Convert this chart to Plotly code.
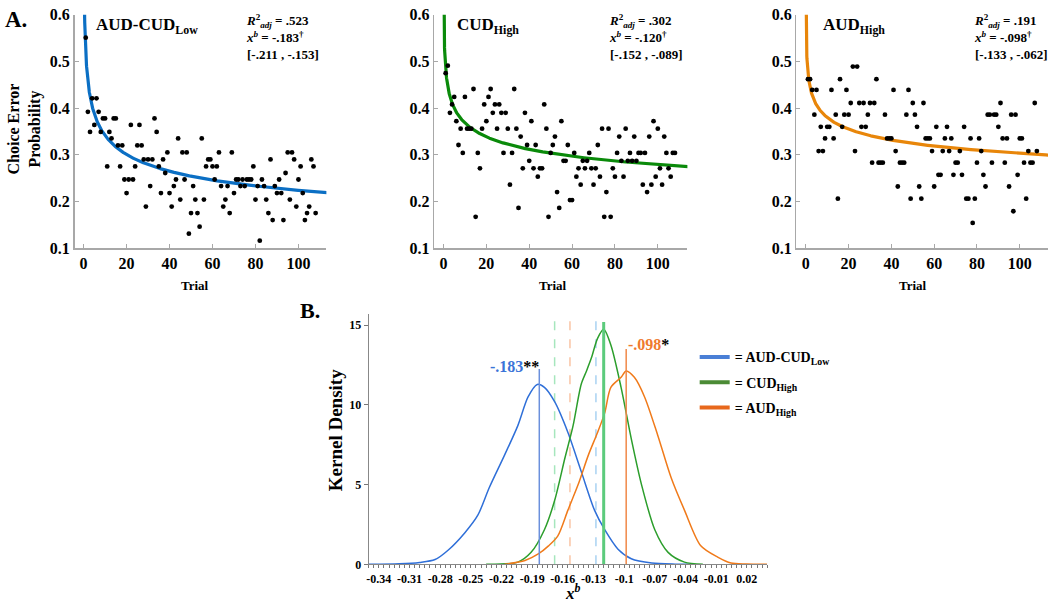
import numpy as np
import plotly.graph_objects as go

# ---------------- DATA ----------------
trials = list(range(1, 109))

aud_cud_low = [0.551, 0.392, 0.349, 0.421, 0.364, 0.421, 0.392, 0.349, 0.378, 0.378,
               0.275, 0.349, 0.335, 0.378, 0.378, 0.32, 0.275, 0.32, 0.247, 0.218,
               0.247, 0.364, 0.247, 0.275, 0.32, 0.364, 0.32, 0.29, 0.189, 0.29,
               0.233, 0.29, 0.378, 0.349, 0.275, 0.218, 0.29, 0.261, 0.305, 0.218,
               0.189, 0.233, 0.247, 0.335, 0.204, 0.305, 0.247, 0.305, 0.131, 0.175,
               0.233, 0.204, 0.175, 0.146, 0.335, 0.204, 0.275, 0.29, 0.29, 0.275,
               0.247, 0.275, 0.305, 0.233, 0.189, 0.204, 0.233, 0.175, 0.305, 0.218,
               0.247, 0.247, 0.233, 0.247, 0.233, 0.247, 0.247, 0.247, 0.275, 0.204,
               0.233, 0.116, 0.247, 0.233, 0.204, 0.175, 0.29, 0.16, 0.233, 0.218,
               0.247, 0.218, 0.16, 0.261, 0.305, 0.204, 0.305, 0.29, 0.189, 0.247,
               0.275, 0.218, 0.16, 0.175, 0.189, 0.29, 0.275, 0.175]

cud_high = [0.475, 0.491, 0.39, 0.408, 0.424, 0.372, 0.321, 0.356, 0.304, 0.424,
            0.356, 0.356, 0.356, 0.441, 0.167, 0.304, 0.271, 0.356, 0.408, 0.372,
            0.424, 0.441, 0.39, 0.408, 0.356, 0.408, 0.39, 0.304, 0.39, 0.356,
            0.236, 0.304, 0.441, 0.356, 0.186, 0.339, 0.271, 0.39, 0.321, 0.287,
            0.372, 0.271, 0.321, 0.253, 0.271, 0.271, 0.408, 0.356, 0.167, 0.304,
            0.321, 0.339, 0.22, 0.186, 0.372, 0.287, 0.287, 0.321, 0.203, 0.203,
            0.304, 0.253, 0.271, 0.236, 0.287, 0.271, 0.287, 0.304, 0.271, 0.236,
            0.271, 0.321, 0.253, 0.356, 0.167, 0.22, 0.356, 0.167, 0.271, 0.253,
            0.304, 0.339, 0.287, 0.253, 0.356, 0.287, 0.304, 0.287, 0.339, 0.287,
            0.304, 0.304, 0.236, 0.304, 0.22, 0.339, 0.236, 0.372, 0.253, 0.356,
            0.271, 0.236, 0.339, 0.304, 0.271, 0.253, 0.304, 0.304]

aud_high = [0.462, 0.462, 0.439, 0.386, 0.439, 0.308, 0.36, 0.308, 0.335, 0.36,
            0.36, 0.439, 0.335, 0.386, 0.206, 0.462, 0.36, 0.386, 0.439, 0.386,
            0.411, 0.489, 0.308, 0.489, 0.411, 0.36, 0.411, 0.36, 0.386, 0.411,
            0.283, 0.411, 0.462, 0.283, 0.283, 0.283, 0.386, 0.335, 0.335, 0.335,
            0.439, 0.308, 0.232, 0.283, 0.283, 0.283, 0.386, 0.439, 0.206, 0.411,
            0.386, 0.36, 0.232, 0.206, 0.411, 0.335, 0.335, 0.335, 0.308, 0.232,
            0.36, 0.257, 0.257, 0.308, 0.335, 0.36, 0.308, 0.335, 0.257, 0.283,
            0.283, 0.308, 0.257, 0.36, 0.206, 0.206, 0.335, 0.154, 0.206, 0.283,
            0.335, 0.308, 0.257, 0.232, 0.386, 0.386, 0.283, 0.386, 0.386, 0.36,
            0.411, 0.335, 0.283, 0.335, 0.232, 0.386, 0.179, 0.386, 0.257, 0.335,
            0.335, 0.283, 0.206, 0.308, 0.283, 0.283, 0.411, 0.308]

# power-law fit parameters  y = a * trial^b
fit_a = [0.52, 0.485, 0.476]
fit_b = [-0.183, -0.120, -0.098]
r2_adj = [".523", ".302", ".191"]
xb_txt = ["-.183", "-.120", "-.098"]
ci_txt = ["[-.211 , -.153]", "[-.152 , -.089]", "[-.133 , -.062]"]
group_titles = ["AUD-CUD<sub>Low</sub>", "CUD<sub>High</sub>", "AUD<sub>High</sub>"]

# kernel densities (panel B)
dens_blue_x = [-0.35, -0.32, -0.30, -0.285, -0.272, -0.256, -0.243, -0.232, -0.217, -0.204,
               -0.194, -0.185, -0.178, -0.168, -0.155, -0.142, -0.129, -0.119, -0.106, -0.093,
               -0.073, -0.05, -0.034]
dens_blue_y = [0, 0.03, 0.12, 0.3, 0.9, 1.97, 3.1, 4.8, 6.85, 8.7,
               10.5, 11.28, 11.1, 10.2, 8.27, 5.83, 3.4, 2.17, 0.95, 0.35,
               0.08, 0.01, 0]
dens_green_x = [-0.235, -0.204, -0.191, -0.178, -0.168, -0.158, -0.150, -0.142, -0.137, -0.132,
                -0.126, -0.120, -0.113, -0.103, -0.093, -0.083, -0.070, -0.057, -0.041, -0.023]
dens_green_y = [0, 0.14, 0.75, 2.17, 4.0, 6.65, 8.68, 11.3, 12.1, 12.95,
                14.17, 14.74, 13.76, 11.1, 7.87, 5.0, 2.17, 0.75, 0.14, 0]
dens_orange_x = [-0.217, -0.197, -0.184, -0.174, -0.165, -0.155, -0.145, -0.135, -0.126, -0.119,
                 -0.113, -0.103, -0.098, -0.090, -0.080, -0.067, -0.054, -0.041, -0.025, -0.0085,
                 0.0045, 0.02, 0.04]
dens_orange_y = [0, 0.24, 0.65, 1.16, 1.77, 3.4, 5.0, 6.85, 8.27, 9.5,
                 11.1, 11.73, 12.13, 11.73, 10.5, 8.07, 5.43, 3.4, 1.16, 0.45,
                 0.08, 0.02, 0]

mean_x = [-0.183, -0.120, -0.098]
mean_h = [12.25, 15.2, 13.5]
dashed_x = [-0.168, -0.153, -0.1276]
dashed_top = 15.7

legend_names = ["= AUD-CUD<sub>Low</sub>", "= CUD<sub>High</sub>", "= AUD<sub>High</sub>"]

bx_ticks = [-0.34, -0.31, -0.28, -0.25, -0.22, -0.19, -0.16, -0.13, -0.1, -0.07, -0.04, -0.01, 0.02]
bx_ticktext = ["-0.34", "-0.31", "-0.28", "-0.25", "-0.22", "-0.19", "-0.16", "-0.13", "-0.1",
               "-0.07", "-0.04", "-0.01", "0.02"]

# ---------------- STYLE / LAYOUT ----------------
FONT = "Liberation Serif, Times New Roman, serif"
top_colors = ["#0b6fc4", "#0a8a0a", "#e8860a"]
dens_colors = ["#2f6fd8", "#2c9e2c", "#f07a1a"]
mean_colors = ["#6b90dc", "#5ccb7c", "#f08848"]
mean_widths = [1.5, 3, 1.5]
dashed_colors = ["#a6e6bd", "#f9c4a4", "#a9d2f2"]
legend_colors = ["#4a7fd6", "#4b8b35", "#e8681c"]

W, H = 1050, 609
def fx(px):
    return px / W
def fy(py):
    return 1 - py / H

x_domains = [[fx(72.7), fx(325)], [fx(433), fx(686.7)], [fx(796), fx(1048)]]
x_ranges = [[-4.2, 113], [-4.35, 113.8], [-4.35, 113.2]]
top_dom = [fy(247), fy(7)]

fig = go.Figure()

curve_x = np.linspace(0.02, 115, 2000)
for i, vals in enumerate([aud_cud_low, cud_high, aud_high]):
    xa = "x" if i == 0 else f"x{i+1}"
    ya = "y" if i == 0 else f"y{i+1}"
    fig.add_trace(go.Scatter(x=curve_x, y=fit_a[i] * curve_x ** fit_b[i], mode="lines",
                             line=dict(color=top_colors[i], width=3.2),
                             xaxis=xa, yaxis=ya, showlegend=False, hoverinfo="skip"))
    fig.add_trace(go.Scatter(x=trials, y=vals, mode="markers",
                             marker=dict(size=4.8, color="black"),
                             xaxis=xa, yaxis=ya, showlegend=False))

# Panel B
for xs, c in zip(dashed_x, dashed_colors):
    fig.add_trace(go.Scatter(x=[xs, xs], y=[0, dashed_top], mode="lines",
                             line=dict(color=c, width=1.5, dash="dash"),
                             xaxis="x4", yaxis="y4", showlegend=False, hoverinfo="skip"))
for dx, dy, c in zip([dens_blue_x, dens_green_x, dens_orange_x],
                     [dens_blue_y, dens_green_y, dens_orange_y], dens_colors):
    fig.add_trace(go.Scatter(x=dx, y=dy, mode="lines",
                             line=dict(color=c, width=1.5, shape="spline", smoothing=0.8),
                             xaxis="x4", yaxis="y4", showlegend=False))
for m, h, c, w in zip(mean_x, mean_h, mean_colors, mean_widths):
    fig.add_trace(go.Scatter(x=[m, m], y=[0, h], mode="lines",
                             line=dict(color=c, width=w),
                             xaxis="x4", yaxis="y4", showlegend=False, hoverinfo="skip"))
for k, (name, c) in enumerate(zip(legend_names, legend_colors)):
    fig.add_trace(go.Scatter(x=[None], y=[None], mode="lines", line=dict(color=c, width=4),
                             name=name, legendgroup=f"g{k}", xaxis="x4", yaxis="y4",
                             showlegend=True))

tickfont_top = dict(family=FONT, size=16, color="black", weight="bold")
axis_gray = "#a8a8a8"
layout = dict(
    width=W, height=H, margin=dict(l=0, r=0, t=0, b=0), autosize=False,
    paper_bgcolor="white", plot_bgcolor="white", hovermode=False,
    font=dict(family=FONT, color="black", weight="bold"),
    legend=dict(x=fx(694), y=fy(343), xanchor="left", yanchor="top",
                font=dict(family=FONT, size=14, color="black", weight="bold"),
                bgcolor="rgba(0,0,0,0)", itemwidth=30, tracegroupgap=4),
)
for i in range(3):
    sx = "" if i == 0 else str(i + 1)
    layout[f"xaxis{sx}"] = dict(domain=x_domains[i], range=x_ranges[i], anchor=f"y{sx}",
                                tickvals=[0, 20, 40, 60, 80, 100], ticks="inside", ticklen=4,
                                tickcolor=axis_gray, showline=True, linecolor=axis_gray,
                                linewidth=1.5, showgrid=False, zeroline=False,
                                tickfont=tickfont_top, ticklabeloverflow="allow")
    layout[f"yaxis{sx}"] = dict(domain=top_dom, range=[0.1, 0.6], anchor=f"x{sx}",
                                tickvals=[0.1, 0.2, 0.3, 0.4, 0.5, 0.6],
                                ticktext=["0.1", "0.2", "0.3", "0.4", "0.5", "0.6"],
                                ticks="inside", ticklen=4, tickcolor=axis_gray,
                                showline=True, linecolor=axis_gray, linewidth=1.5,
                                showgrid=False, zeroline=False, tickfont=tickfont_top,
                                ticklabeloverflow="allow")

layout["xaxis4"] = dict(domain=[fx(367.3), fx(766.7)], range=[-0.35, 0.04], anchor="y4",
                        tickvals=bx_ticks, ticktext=bx_ticktext, ticks="outside", ticklen=3,
                        tickcolor="#777", showline=True, linecolor="#888", linewidth=1,
                        showgrid=False, zeroline=False,
                        minor=dict(dtick=0.005, tick0=0, ticks="outside", ticklen=3, tickcolor="#777"),
                        tickfont=dict(family=FONT, size=12, color="black", weight="bold"))
layout["yaxis4"] = dict(domain=[fy(572.3), fy(314.8)], range=[0, 15.7], anchor="x4",
                        tickvals=[0, 5, 10, 15], ticks="outside", ticklen=4, tickcolor="#777",
                        showline=True, linecolor="#888", linewidth=1, showgrid=False,
                        zeroline=False,
                        tickfont=dict(family=FONT, size=12, color="black", weight="bold"))
fig.update_layout(**layout)

ann = []
def add(text, x, y, size, xanchor="left", yanchor="middle", angle=0, align="left",
        xref="paper", yref="paper"):
    ann.append(dict(text=text, x=x, y=y, xref=xref, yref=yref, xanchor=xanchor, yanchor=yanchor,
                    showarrow=False, textangle=angle, align=align, borderpad=0,
                    font=dict(family=FONT, size=size, color="black", weight="bold")))

add("A.", fx(2), fy(12), 23)
add("B.", fx(298), fy(311), 22)
add("Choice Error<br>Probability", fx(23), fy(124), 16, xanchor="center", angle=-90, align="center")
title_left = [93, 455, 822]
stat_left = [243, 607, 973]
trial_center = [193, 552, 913]
for i in range(3):
    add(group_titles[i], fx(title_left[i]), fy(19), 17)
    add(f"<i>R</i><sup>2</sup><sub><i>adj</i></sub> = {r2_adj[i]}<br><i>x<sup>b</sup></i> = {xb_txt[i]}<sup>†</sup><br>{ci_txt[i]}",
        fx(stat_left[i]), fy(3), 13, yanchor="top")
    add("Trial", fx(trial_center[i]), fy(285), 13, xanchor="center")

add("Kernel Density", fx(335), fy(434), 19, xanchor="center", angle=-90)
add("<i>x<sup>b</sup></i>", fx(572), fy(613), 17, xanchor="center", yanchor="bottom")
add("<span style='color:#3b74d8'>-.183</span>**", mean_x[0] + 0.0005, 12.4, 16,
    xanchor="right", yanchor="middle", xref="x4", yref="y4")
add("<span style='color:#3f8a2a'>-.120</span>*", mean_x[1], 15.8, 16, xanchor="left",
    yanchor="middle", xref="x4", yref="y4")
add("<span style='color:#ef7a2e'>-.098</span>*", mean_x[2] + 0.0005, 13.8, 16, xanchor="left",
    yanchor="middle", xref="x4", yref="y4")
fig.update_layout(annotations=ann)

# remove the browser's default 8px body margin so the figure fills the window exactly
fig.write_html("out.html", config={"displayModeBar": False, "staticPlot": True},
               post_script="document.body.style.margin='0px';")
